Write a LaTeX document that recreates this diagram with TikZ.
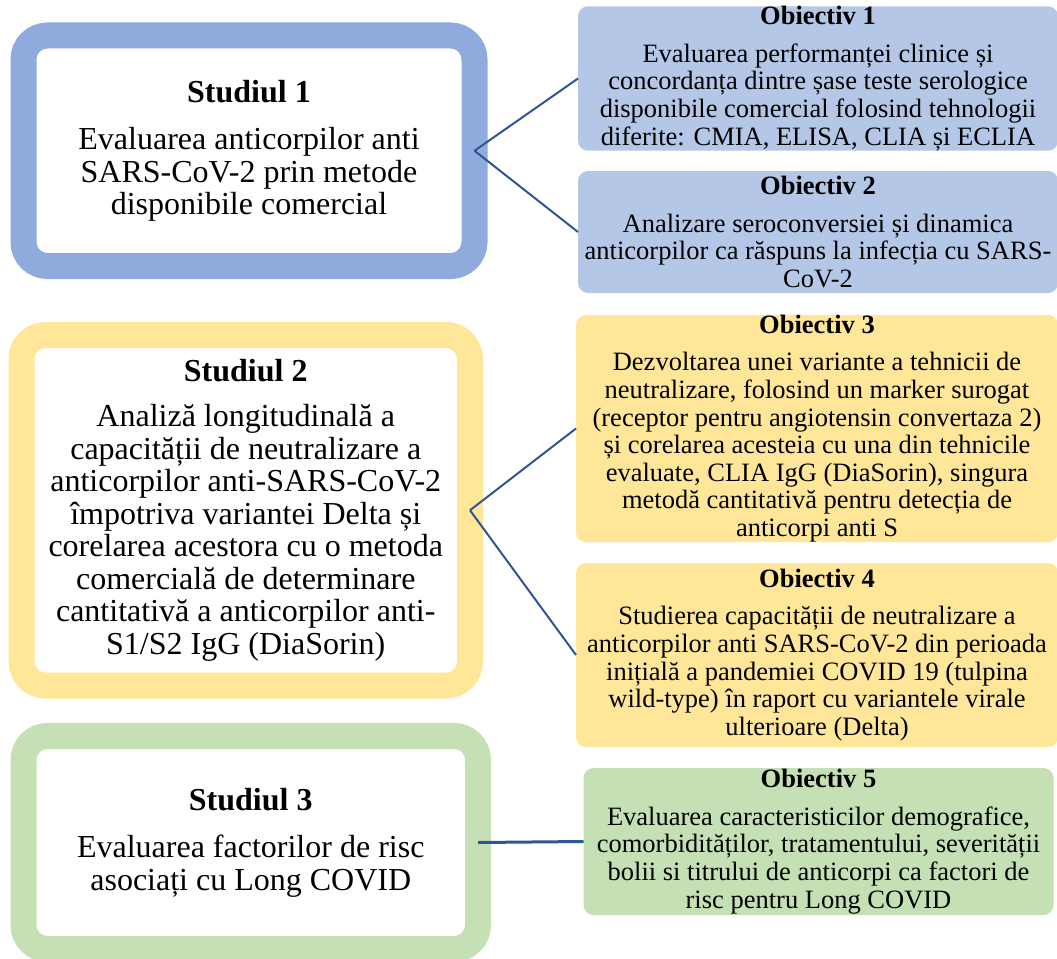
\documentclass[tikz,border=0pt]{standalone}
\usepackage{fontspec}
\setmainfont{Liberation Serif}
\begin{document}
\begin{tikzpicture}[x = 1pt, y = -1pt,
studybox/.style = {draw = #1, fill = white, line width = 26pt, rounded corners = 24pt, inner sep = 0pt, outer sep = 0pt, align = center, font = \fontsize{32}{32.5}\selectfont},
goalbox/.style = {fill = #1, rounded corners = 10pt, inner sep = 0pt, outer sep = 0pt, align = center, font = \fontsize{26.5}{27.6}\selectfont},
link/.style = {draw = linkblue, line width = 2pt}]
\definecolor{blueframe}{RGB}{143,170,220}
\definecolor{bluefill}{RGB}{180,199,231}
\definecolor{yellowframe}{RGB}{255,230,153}
\definecolor{greenframe}{RGB}{197,224,180}
\definecolor{linkblue}{RGB}{47,85,151}
\useasboundingbox (0,0) rectangle (1057,958);
\node[studybox = blueframe, minimum width = 451pt, minimum height = 230.5pt] (s1) at (249,150.75) {\textbf{Studiul 1}\\[15pt]Evaluarea anticorpilor anti\\SARS-CoV-2 prin metode\\disponibile comercial};
\node[studybox = yellowframe, minimum width = 448.5pt, minimum height = 350.5pt] (s2) at (245.75,510.25) {\textbf{Studiul 2}\\[13pt]Analiză longitudinală a\\capacității de neutralizare a\\anticorpilor anti-SARS-CoV-2\\împotriva variantei Delta și\\corelarea acestora cu o metoda\\comercială de determinare\\cantitativă a anticorpilor anti-\\S1/S2 IgG (DiaSorin)};
\node[studybox = greenframe, minimum width = 454.5pt, minimum height = 213pt] (s3) at (250.75,842.5) {\textbf{Studiul 3}\\[15pt]Evaluarea factorilor de risc\\asociați cu Long COVID};
\node[goalbox = bluefill, minimum width = 480pt, minimum height = 141pt] (o1) at (818,78.5) {\textbf{Obiectiv 1}\\[10pt]Evaluarea performanței clinice și\\concordanța dintre șase teste serologice\\disponibile comercial folosind tehnologii\\diferite: CMIA, ELISA, CLIA și ECLIA};
\node[goalbox = bluefill, minimum width = 480pt, minimum height = 122pt] (o2) at (818,232) {\textbf{Obiectiv 2}\\[10pt]Analizare seroconversiei și dinamica\\anticorpilor ca răspuns la infecția cu SARS-\\CoV-2};
\node[goalbox = yellowframe, minimum width = 482pt, minimum height = 227pt] (o3) at (817,428.5) {\textbf{Obiectiv 3}\\[10pt]Dezvoltarea unei variante a tehnicii de\\neutralizare, folosind un marker surogat\\(receptor pentru angiotensin convertaza 2)\\și corelarea acesteia cu una din tehnicile\\evaluate, CLIA IgG (DiaSorin), singura\\metodă cantitativă pentru detecția de\\anticorpi anti S};
\node[goalbox = yellowframe, minimum width = 482pt, minimum height = 184pt] (o4) at (817,655) {\textbf{Obiectiv 4}\\[10pt]Studierea capacității de neutralizare a\\anticorpilor anti SARS-CoV-2 din perioada\\inițială a pandemiei COVID 19 (tulpina\\wild-type) în raport cu variantele virale\\ulterioare (Delta)};
\node[goalbox = greenframe, minimum width = 470pt, minimum height = 147pt] (o5) at (818.5,841.5) {\textbf{Obiectiv 5}\\[10pt]Evaluarea caracteristicilor demografice,\\comorbidităților, tratamentului, severității\\bolii si titrului de anticorpi ca factori de\\risc pentru Long COVID};
\draw[link] (s1.east) -- (o1.west);
\draw[link] (s1.east) -- (o2.west);
\draw[link] (s2.east) -- (o3.west);
\draw[link] (s2.east) -- (o4.west);
\draw[link, line width = 3pt] (s3.east) -- (o5.west);
\end{tikzpicture}
\end{document}
